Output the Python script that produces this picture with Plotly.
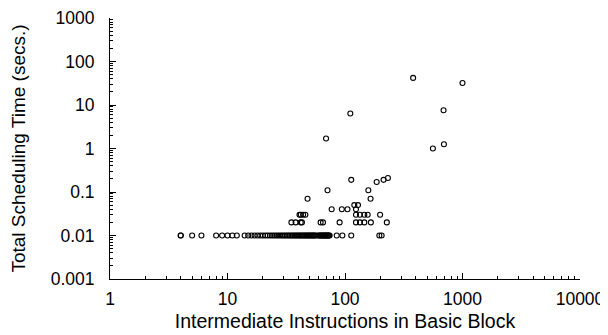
import plotly.graph_objects as go

# Intermediate instructions in basic block (x) and total scheduling time in seconds (y)
row_001_x = [4, 4, 5, 6, 8, 9, 10, 11, 12, 14, 15, 16, 17, 18, 19, 20, 21, 22, 23, 24, 25,
             26, 27, 28, 29, 30, 31, 32, 33, 34, 35, 36, 37, 38, 39, 40, 41, 42, 43, 44,
             45, 46, 47, 48, 49, 50, 51, 52, 53, 54, 55, 56, 58, 60, 61, 62, 63, 64, 65,
             66, 67, 68, 69, 70, 71, 72, 73, 74, 85, 95, 113, 196, 205]
row_001_y = [0.01] * len(row_001_x)

row_002_x = [35, 38, 42, 43, 62, 65, 90, 124, 134, 146, 166, 227]
row_002_y = [0.02] * len(row_002_x)

row_003_x = [41, 42, 44, 46, 124, 134, 146, 156, 199]
row_003_y = [0.03] * len(row_003_x)

row_004_x = [77, 94, 105, 124]
row_004_y = [0.04] * len(row_004_x)

row_005_x = [120, 129]
row_005_y = [0.05] * len(row_005_x)

upper_x = [48, 165, 71, 158, 113, 186, 213, 232, 69, 111, 380, 560, 690, 695, 1000]
upper_y = [0.07, 0.07, 0.11, 0.11, 0.19, 0.17, 0.19, 0.21, 1.7, 6.4, 42, 1.0, 7.6, 1.25, 32]

x_tick_vals = [1, 10, 100, 1000, 10000]
x_tick_text = ["1", "10", "100", "1000", "10000"]
y_tick_vals = [0.001, 0.01, 0.1, 1, 10, 100, 1000]
y_tick_text = ["0.001", "0.01", "0.1", "1", "10", "100", "1000"]

xs = row_001_x + row_002_x + row_003_x + row_004_x + row_005_x + upper_x
ys = row_001_y + row_002_y + row_003_y + row_004_y + row_005_y + upper_y

fig = go.Figure(go.Scatter(
    x=xs, y=ys, mode="markers",
    marker=dict(symbol="circle-open", size=5, color="black", line=dict(width=1.1, color="black")),
    showlegend=False,
))

font_family = "Liberation Sans, Arial, Helvetica, sans-serif"
axis_common = dict(
    type="log", showgrid=False, zeroline=False, showline=True, linecolor="black",
    linewidth=1, ticks="inside", ticklen=6, tickcolor="black", tickwidth=1,
    tickfont=dict(family=font_family, size=17.5, color="black"),
    minor=dict(ticks="inside", ticklen=3, tickcolor="black", dtick="D1", showgrid=False),
    mirror=False, automargin=False,
)

fig.update_layout(
    width=608, height=335,
    margin=dict(l=102, r=36, t=10, b=64),
    paper_bgcolor="white", plot_bgcolor="white",
    font=dict(family=font_family, color="black"),
    xaxis=dict(
        range=[0, 4], tickmode="array", tickvals=x_tick_vals, ticktext=x_tick_text,
        ticklabelstandoff=4,
        title=dict(text="Intermediate Instructions in Basic Block",
                   font=dict(family=font_family, size=19.5, color="black"), standoff=6),
        **axis_common,
    ),
    yaxis=dict(
        range=[-3, 3], tickmode="array", tickvals=y_tick_vals, ticktext=y_tick_text,
        ticklabelstandoff=11,
        title=dict(text="Total Scheduling Time (secs.)",
                   font=dict(family=font_family, size=19, color="black"), standoff=20),
        **axis_common,
    ),
)

fig.write_html("out.html")
